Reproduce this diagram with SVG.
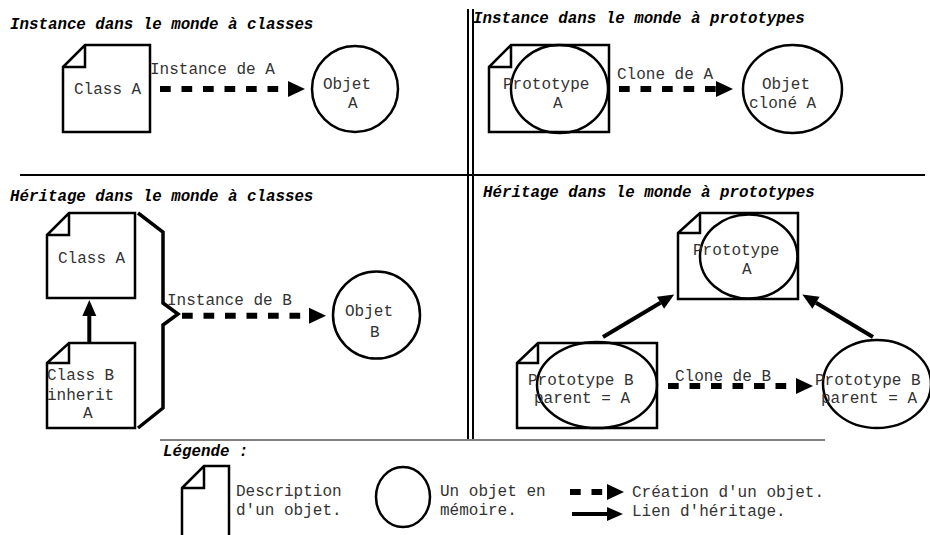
<svg xmlns="http://www.w3.org/2000/svg" width="930" height="535" viewBox="0 0 930 535">
  <defs>
    <style>
      .title { font-family: "Liberation Mono", "Courier New", monospace; font-size: 15.8px; font-weight: bold; font-style: italic; fill: #000; }
      .lbl { font-family: "Liberation Mono", "Courier New", monospace; font-size: 16px; fill: #333; }
      .shape { fill: none; stroke: #000; stroke-width: 2.5; stroke-linejoin: miter; }
      .brace { fill: none; stroke: #000; stroke-width: 3.5; stroke-linejoin: miter; }
      .dash { fill: none; stroke: #000; stroke-width: 6; stroke-dasharray: 10.7 10.8; }
      .solid { fill: none; stroke: #000; stroke-width: 4; }
      .rule { stroke: #000; stroke-width: 2; }
    </style>
    <marker id="headDash" markerUnits="userSpaceOnUse" markerWidth="18" markerHeight="16" refX="0" refY="8" orient="auto" overflow="visible">
      <path d="M0,0 L17,8 L0,16 z" fill="#000"/>
    </marker>
    <marker id="headSolid" markerUnits="userSpaceOnUse" markerWidth="17" markerHeight="15" refX="0" refY="7" orient="auto" overflow="visible">
      <path d="M0,0 L16,7 L0,14 z" fill="#000"/>
    </marker>
  </defs>

  <rect width="930" height="535" fill="#fff"/>

  <!-- panel separators -->
  <g id="separators">
    <line class="rule" x1="20" y1="175" x2="925" y2="175"/>
    <line class="rule" x1="468" y1="9" x2="468" y2="439"/>
    <line class="rule" x1="473" y1="9" x2="473" y2="439"/>
    <line x1="160" y1="440" x2="825" y2="440" stroke="#555" stroke-width="1.5"/>
  </g>

  <!-- section titles -->
  <g id="titles">
    <text class="title" x="10" y="29">Instance dans le monde à classes</text>
    <text class="title" x="473" y="23">Instance dans le monde à prototypes</text>
    <text class="title" x="10" y="201">Héritage dans le monde à classes</text>
    <text class="title" x="483" y="197">Héritage dans le monde à prototypes</text>
    <text class="title" x="163" y="456">Légende :</text>
  </g>

  <!-- top-left: class and instance -->
  <g id="tl-class-a">
    <path class="shape" d="M63,67 L85,45 L150,45 L150,132 L63,132 Z M85,45 L85,67 L63,67"/>
    <text class="lbl" x="74" y="94">Class A</text>
  </g>
  <g id="tl-objet-a">
    <circle class="shape" cx="355" cy="89" r="43"/>
    <text class="lbl" x="323" y="89">Objet</text>
    <text class="lbl" x="348" y="108">A</text>
  </g>

  <!-- top-right: prototype and clone -->
  <g id="tr-prototype-a">
    <path class="shape" d="M489,67 L511,45 L609,45 L609,132 L489,132 Z M511,45 L511,67 L489,67"/>
    <ellipse class="shape" cx="559.5" cy="89" rx="48.5" ry="44"/>
    <text class="lbl" x="503" y="89">Prototype</text>
    <text class="lbl" x="553" y="108">A</text>
  </g>
  <g id="tr-objet-clone">
    <ellipse class="shape" cx="792.5" cy="89" rx="49.5" ry="44"/>
    <text class="lbl" x="762" y="89">Objet</text>
    <text class="lbl" x="749" y="108">cloné A</text>
  </g>

  <!-- bottom-left: class inheritance -->
  <g id="bl-class-a">
    <path class="shape" d="M47,235 L69,213 L135,213 L135,298 L47,298 Z M69,213 L69,235 L47,235"/>
    <text class="lbl" x="58" y="263">Class A</text>
  </g>
  <g id="bl-class-b">
    <path class="shape" d="M47,363 L69,343 L135,343 L135,428 L47,428 Z M69,343 L69,363 L47,363"/>
    <text class="lbl" x="47" y="380">Class B</text>
    <text class="lbl" x="47" y="400">inherit</text>
    <text class="lbl" x="83" y="418">A</text>
  </g>
  <g id="bl-brace">
    <path class="brace" d="M138,213 L163,232 L163,303 L178,314 L163,325 L163,408 L138,428"/>
  </g>
  <g id="bl-objet-b">
    <circle class="shape" cx="376.5" cy="315" r="43.5"/>
    <text class="lbl" x="345" y="316">Objet</text>
    <text class="lbl" x="370" y="337">B</text>
  </g>

  <!-- bottom-right: prototype inheritance -->
  <g id="br-prototype-a">
    <path class="shape" d="M678,233 L700,213 L798,213 L798,299 L678,299 Z M700,213 L700,233 L678,233"/>
    <ellipse class="shape" cx="748.7" cy="256.5" rx="48.7" ry="42"/>
    <text class="lbl" x="693" y="255">Prototype</text>
    <text class="lbl" x="742" y="274">A</text>
  </g>
  <g id="br-prototype-b">
    <path class="shape" d="M517,363 L538,343 L657,343 L657,428 L517,428 Z M538,343 L538,363 L517,363"/>
    <ellipse class="shape" cx="597" cy="385" rx="60" ry="43"/>
    <text class="lbl" x="528" y="385">Prototype B</text>
    <text class="lbl" x="534" y="403">parent = A</text>
  </g>
  <g id="br-prototype-b-clone">
    <ellipse class="shape" cx="877" cy="384" rx="54" ry="44"/>
    <text class="lbl" x="815" y="385">Prototype B</text>
    <text class="lbl" x="821" y="403">parent = A</text>
  </g>

  <!-- connectors -->
  <g id="connectors">
    <line class="dash" x1="160" y1="89" x2="288" y2="89" marker-end="url(#headDash)"/>
    <text class="lbl" x="150" y="74">Instance de A</text>

    <line class="dash" x1="619" y1="89" x2="716" y2="89" stroke-dasharray="11.5 9.8" marker-end="url(#headDash)"/>
    <text class="lbl" x="617" y="79">Clone de A</text>

    <line class="solid" x1="89.3" y1="343" x2="89.3" y2="316" marker-end="url(#headSolid)"/>

    <line class="dash" x1="182" y1="315.7" x2="309" y2="315.7" marker-end="url(#headDash)"/>
    <text class="lbl" x="167" y="305">Instance de B</text>

    <line class="dash" x1="668" y1="386" x2="796" y2="386" stroke-dasharray="10.5 10.2" marker-end="url(#headDash)"/>
    <text class="lbl" x="675" y="381">Clone de B</text>

    <line class="solid" x1="603" y1="337" x2="660.5" y2="302.7" marker-end="url(#headSolid)"/>
    <line class="solid" x1="873" y1="337" x2="816" y2="302.7" marker-end="url(#headSolid)"/>
  </g>

  <!-- legend -->
  <g id="legend-description">
    <path class="shape" d="M182,488 L204,466 L229,466 L229,540 L182,540 Z M204,466 L204,488 L182,488"/>
    <text class="lbl" x="236" y="496">Description</text>
    <text class="lbl" x="236" y="515">d'un objet.</text>
  </g>
  <g id="legend-objet">
    <ellipse class="shape" cx="403" cy="497" rx="27" ry="30"/>
    <text class="lbl" x="440" y="496">Un objet en</text>
    <text class="lbl" x="440" y="515">mémoire.</text>
  </g>
  <g id="legend-links">
    <line class="dash" x1="570" y1="492" x2="607" y2="492" stroke-dasharray="10 8" marker-end="url(#headDash)"/>
    <text class="lbl" x="632" y="497">Création d'un objet.</text>
    <line class="solid" x1="572" y1="514" x2="607" y2="514" marker-end="url(#headSolid)"/>
    <text class="lbl" x="632" y="516">Lien d'héritage.</text>
  </g>
</svg>
